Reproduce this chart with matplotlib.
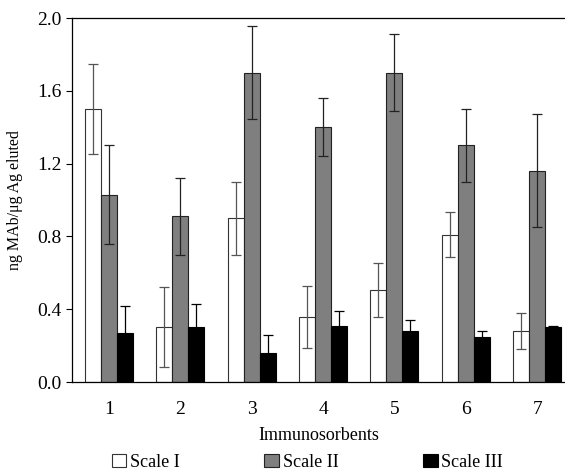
import matplotlib
matplotlib.use("Agg")
import matplotlib.pyplot as plt
import numpy as np

plt.rcParams['font.family'] = ['Liberation Serif', 'DejaVu Serif']

categories = ["1", "2", "3", "4", "5", "6", "7"]
series_names = ["Scale I", "Scale II", "Scale III"]
scale1 = [1.50, 0.30, 0.90, 0.355, 0.505, 0.81, 0.28]
scale1_err = [0.245, 0.22, 0.20, 0.17, 0.15, 0.125, 0.10]
scale2 = [1.03, 0.91, 1.70, 1.40, 1.70, 1.30, 1.16]
scale2_err = [0.27, 0.21, 0.255, 0.16, 0.21, 0.20, 0.31]
scale3 = [0.27, 0.30, 0.16, 0.31, 0.28, 0.25, 0.30]
scale3_err = [0.15, 0.13, 0.10, 0.08, 0.06, 0.03, 0.007]

fig = plt.figure(figsize=(5.65, 4.74), dpi=100)
ax = fig.add_axes([0.127, 0.194, 0.873, 0.768])

x = np.arange(1, len(categories) + 1)
w = 0.225
faces = ["white", "#7f7f7f", "black"]
edges = ["#333333", "#222222", "black"]
ecolors = ["#555555", "#222222", "black"]
data = [(scale1, scale1_err), (scale2, scale2_err), (scale3, scale3_err)]
handles = []
for i, (vals, errs) in enumerate(data):
    b = ax.bar(x + (i - 1) * w, vals, width=w, facecolor=faces[i],
               edgecolor=edges[i], linewidth=0.8, label=series_names[i],
               yerr=errs, error_kw=dict(ecolor=ecolors[i], elinewidth=0.9,
                                        capsize=3.5, capthick=0.9), zorder=2)
    handles.append(b)

ax.set_ylim(0, 2.0)
ax.set_xlim(0.48, 7.39)
ax.set_yticks(np.arange(0, 2.01, 0.4))
ax.set_yticklabels([f"{v:.1f}" for v in np.arange(0, 2.01, 0.4)])
ax.set_xticks(x)
ax.set_xticklabels(categories)
ax.tick_params(axis='y', direction='out', length=4, labelsize=14)
ax.tick_params(axis='x', length=0, labelsize=14, pad=14)
ax.spines['right'].set_visible(False)
for s in ['top', 'bottom', 'left']:
    ax.spines[s].set_linewidth(0.9)

ax.set_ylabel("ng MAb/\u03bcg Ag eluted", fontsize=11.5, labelpad=10)
ax.set_xlabel("Immunosorbents", fontsize=13, labelpad=6)

fig.legend(handles=handles, labels=series_names, loc='center',
           bbox_to_anchor=(0.544, 0.025), ncol=3, frameon=False, fontsize=13,
           handlelength=0.8, handleheight=0.8, handletextpad=0.2,
           columnspacing=4.7, borderaxespad=0)

fig.savefig("out.png", dpi=100)
